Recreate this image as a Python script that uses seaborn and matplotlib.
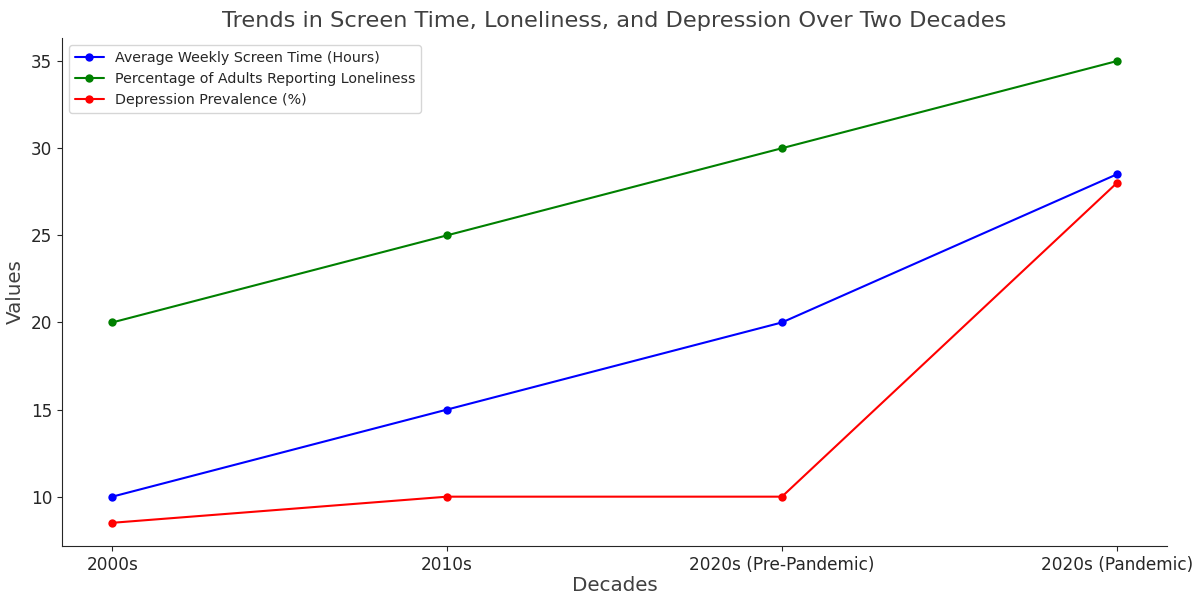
import matplotlib
matplotlib.use("Agg")
import matplotlib.pyplot as plt
import seaborn as sns
import pandas as pd

decades = ["2000s", "2010s", "2020s (Pre-Pandemic)", "2020s (Pandemic)"]
screen_time = [10, 15, 20, 28.5]
loneliness = [20, 25, 30, 35]
depression = [8.5, 10, 10, 28]

series = [
    ("Average Weekly Screen Time (Hours)", screen_time, "blue"),
    ("Percentage of Adults Reporting Loneliness", loneliness, "green"),
    ("Depression Prevalence (%)", depression, "red"),
]

sns.set_style("ticks")
plt.rcParams["font.family"] = ["DejaVu Sans"]

fig, ax = plt.subplots(figsize=(12, 5.94), dpi=100)
fig.subplots_adjust(left=0.0517, right=0.9725, bottom=0.081, top=0.936)

x_pos = list(range(len(decades)))
for label, values, color in series:
    df = pd.DataFrame({"x": x_pos, "y": values})
    sns.lineplot(data=df, x="x", y="y", ax=ax, color=color, marker="o",
                 markersize=6, markeredgewidth=0, linewidth=1.5, label=label)

ax.set_xticks(x_pos)
ax.set_xticklabels(decades)
ax.margins(x=0.05, y=0.05)
ax.tick_params(axis="both", labelsize=12.2)
ax.set_title("Trends in Screen Time, Loneliness, and Depression Over Two Decades",
             fontsize=16.2, color=".25", pad=8)
ax.set_xlabel("Decades", fontsize=14.3, color=".25", labelpad=2)
ax.set_ylabel("Values", fontsize=14.3, color=".25")
ax.legend(loc="upper left", fontsize=10.3, frameon=True)
sns.despine(ax=ax)

fig.savefig("out.png", dpi=100)
